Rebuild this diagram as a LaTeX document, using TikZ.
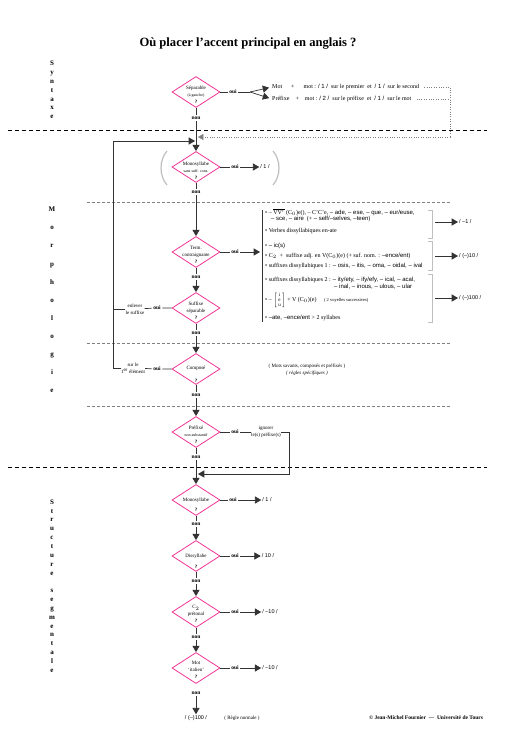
\documentclass[tikz,border=0pt]{standalone}
\usepackage{fontspec}
\setmainfont{Liberation Serif}
\setsansfont{Liberation Sans}
\usepackage{amsmath}
\usetikzlibrary{shapes, arrows, calc}
\definecolor{rose}{RGB}{238,52,148}
\definecolor{trait}{gray}{0.2}

\begin{document}
\begin{tikzpicture}[x=1pt, y=-1pt, >=triangle 60]
\tikzset{
  cond/.style={diamond, draw=rose, line width=0.8pt, minimum width=48pt,
               minimum height=31pt, inner sep=0pt},
  ctxt/.style={align=center, font=\fontsize{5}{7}\selectfont, inner sep=0pt},
  rep/.style={font=\bfseries\fontsize{5.5}{6}\selectfont, inner sep=1.5pt},
  res/.style={font=\sffamily\fontsize{5.5}{6}\selectfont, inner sep=1pt},
  liste/.style={anchor=west, font=\fontsize{6}{6}\selectfont, inner sep=0pt},
  fil/.style={draw=trait, line width=0.7pt},
  crochet/.style={draw=lightgray, line width=0.8pt},
  coupe/.style={dash pattern=on 4pt off 3pt, line width=0.8pt},
  coupefine/.style={draw=gray, dash pattern=on 3pt off 2pt, line width=0.4pt},
  vert/.style={font=\bfseries\fontsize{7}{#1}\selectfont, align=center, inner sep=0pt}
  };

\useasboundingbox (0,0) rectangle (519,745);

\node[font=\bfseries\fontsize{12.6}{14}\selectfont] (titre) at (248,44) {Où placer l'accent principal en anglais ?};

\node[vert=8.8]  (syn) at (52,90)  {S\\y\\n\\t\\a\\x\\e};
\node[vert=18.1] (mor) at (52,300) {M\\o\\r\\p\\h\\o\\l\\o\\g\\i\\e};
\node[vert=8.84] (str) at (52,586) {S\\t\\r\\u\\c\\t\\u\\r\\e\\[8.84pt]s\\e\\g\\m\\e\\n\\t\\a\\l\\e};

\draw[coupe] (8,130) -- (487,130);
\draw[coupe] (8,467) -- (487,467);
\foreach \y in {202,343,406} \draw[coupefine] (87,\y) -- (450,\y);

\node[cond] (separ) at (196,92)  {};
\node[cond] (mono)  at (196,167) {};
\node[cond] (term)  at (196,252) {};
\node[cond] (suff)  at (196,308) {};
\node[cond] (comp)  at (196,369) {};
\node[cond] (pref)  at (196,432) {};
\node[cond] (monob) at (196,500) {};
\node[cond] (diss)  at (196,556) {};
\node[cond] (cdeux) at (196,612) {};
\node[cond] (ital)  at (196,668) {};

\node[ctxt] (separ-t) at (196,95)  {Séparable\\{\fontsize{4}{5}\selectfont (à gauche)}\\\textbf{?}};
\node[ctxt] (mono-t)  at (196,171) {Monosyllabe\\{\fontsize{4}{5}\selectfont sans suff. cons.}\\\textbf{?}};
\node[ctxt] (term-t)  at (196,255) {Term.\\contraignante\\\textbf{?}};
\node[ctxt] (suff-t)  at (196,311) {Suffixe\\séparable\\\textbf{?}};
\node[ctxt] (comp-t)  at (196,374) {Composé\\[6pt]\textbf{?}};
\node[ctxt] (pref-t)  at (196,435) {Préfixé\\{\fontsize{4}{5}\selectfont non-substantif}\\\textbf{?}};
\node[ctxt] (monob-t) at (196,505) {Monosyllabe\\[3pt]\textbf{?}};
\node[ctxt] (diss-t)  at (196,561) {Dissyllabe\\[4pt]\textbf{?}};
\node[ctxt] (cdeux-t) at (196,614) {C$_2$\\prétonal\\\textbf{?}};
\node[ctxt] (ital-t)  at (196,670) {Mot\\`italien'\\\textbf{?}};

\foreach \n/\y in {a/118, b/192, c/277, d/333, e/395, f/457, g/524, h/581, i/637, j/693}
  \node[rep] (non\n) at (196,\y) {non};

\foreach \d/\n/\s in {separ/a/mono, mono/b/term, term/c/suff, suff/d/comp, comp/e/pref,
                      pref/f/monob, monob/g/diss, diss/h/cdeux, cdeux/i/ital}{
  \draw[fil] (\d) -- (non\n);
  \draw[fil, ->] (non\n) -- (\s);
}

\node[res] (fin) at (196,718) {/ (–)100 /};
\node[font=\fontsize{5}{6}\selectfont] (regle) at (242,718) {( Règle normale )};
\draw[fil, ->] (nonj) -- (fin);

% syntaxe
\node[rep] (ouia) at (233,92) {oui};
\coordinate (fourche) at (250,92);
\node[liste] (mot) at (272,87) {Mot \hspace{6pt} + \hspace{6pt} mot : \textsf{/ 1 /} \ sur le premier \ et \ \textsf{/ 1 /} \ sur le second};
\node[liste] (prefixe) at (272,99) {Préfixe \hspace{3pt} + \hspace{3pt} mot : \textsf{/ 2 /} \ sur le préfixe \ et \ \textsf{/ 1 /} \ sur le mot};
\draw[fil] (separ) -- (ouia) -- (fourche);
\draw[fil, ->, shorten >=3pt] (fourche) -- (mot.west);
\draw[fil, ->, shorten >=3pt] (fourche) -- (prefixe.west);

\coordinate (pa) at (450,87);
\coordinate (pc) at (450,137);
\coordinate (retour) at (198,137);
\draw[gray, dotted] (mot.east) ++(5,0) -- (pa) -- (pc);
\draw[gray, dotted] (prefixe.east) ++(5,0) -- (prefixe.east -| pa);
\draw[gray, dotted, ->] (pc) -- (retour);

% morphologie
\node[rep] (ouib) at (235,167) {oui};
\node[res] (unb) at (265,167) {/ 1 /};
\draw[fil] (mono) -- (ouib);
\draw[fil, ->] (ouib) -- (unb);
\draw[lightgray, line width=1.2pt] (167,151) .. controls (159,160) and (159,176) .. (167,185);
\draw[lightgray, line width=1.2pt] (273,151) .. controls (281,160) and (281,176) .. (273,185);

\node[rep] (ouic) at (235,252) {oui};
\coordinate (boite) at (260,252);
\draw[fil] (term) -- (ouic);
\draw[fil, ->] (ouic) -- (boite);

\draw[fil] (262,210) -- (262,322);
\draw[crochet] (428,210) -- (432,210) -- (432,238) -- (428,238);
\draw[crochet] (428,241) -- (432,241) -- (432,270) -- (428,270);
\draw[crochet] (428,274) -- (432,274) -- (432,322) -- (428,322);

\begin{scope}[every node/.style={liste}]
\node (la) at (265,212) {• – $\overline{\mathrm{VV'}}$ (C$_0$)e(), – C'C'e, \textsf{– ade, – ese, – que, – eur/euse,}};
\node (lb) at (271,219) {\textsf{– sce, – aire} \ (+ \textsf{– self/–selves, –teen})};
\node (lc) at (265,231) {• Verbes dissyllabiques en-ate};
\node (ld) at (265,246) {• \textsf{– ic(s)}};
\node (le) at (265,256) {• C$_2$ \ + \ suffixe adj. en V(C$_0$)(e) (+ suf. nom. : \textsf{–ence/ent})};
\node (lf) at (265,266) {• suffixes dissyllabiques 1 : \textsf{– osis, – itis, – oma, – oidal, – ival}};
\node (lg) at (265,280) {• suffixes dissyllabiques 2 : \textsf{– ity/ety, – ify/efy, – ical, – acal,}};
\node (lh) at (334,287) {\textsf{– inal, – inous, – ulous, – ular}};
\node (li) at (265,300) {• – $\left[\begin{smallmatrix}\mathrm{i}\\ \mathrm{e}\\ \mathrm{u}\end{smallmatrix}\right]$ + V (C$_0$)(e) \quad {\fontsize{4.5}{5}\selectfont ( 2 voyelles successives)}};
\node (lj) at (265,318) {• \textsf{–ate, –ence/ent} \textgreater{} 2 syllabes};
\end{scope}

\coordinate (ca) at (435,222);
\coordinate (cb) at (435,256);
\coordinate (cc) at (435,298);
\node[res, anchor=west] (ra) at (458,222) {/ –1 /};
\node[res, anchor=west] (rb) at (458,256) {/ (–)10 /};
\node[res, anchor=west] (rc) at (458,298) {/ (–)100 /};
\draw[fil, ->] (ca) -- (ra);
\draw[fil, ->] (cb) -- (rb);
\draw[fil, ->] (cc) -- (rc);

\node[rep] (ouid) at (157,308) {oui};
\node[ctxt] (enlever) at (135,309) {enlever\\le suffixe};
\node[rep] (ouie) at (157,369) {oui};
\node[ctxt] (surle) at (133,368) {sur le\\1\textsuperscript{er} élément};
\coordinate (gh) at (113,141);
\coordinate (entree) at (195,141);
\draw[fil] (suff) -- (ouid) -- (enlever);
\draw[fil] (enlever.west) -- (enlever.west -| gh);
\draw[fil] (comp) -- (ouie) -- (surle);
\draw[fil, ->] (surle.west) -| (gh) -- (entree);

\node[font=\fontsize{5}{7}\selectfont, align=center] (savants) at (307,370) {( Mots savants, composés et préfixés )\\{\itshape ( règles spécifiques )}};

\node[rep] (ouif) at (235,432) {oui};
\node[ctxt] (ignorer) at (266,432) {ignorer\\le(s) préfixe(s)};
\coordinate (ic) at (289,474);
\coordinate (entreeb) at (198,474);
\draw[fil] (pref) -- (ouif) -- (ignorer);
\draw[fil, ->] (ignorer.east) -| (ic) -- (entreeb);

% structure segmentale
\node[rep] (ouig) at (233,500) {oui};
\node[res] (ung) at (267,500) {/ 1 /};
\node[rep] (ouih) at (235,556) {oui};
\node[res] (dixh) at (268,556) {/ 10 /};
\node[rep] (ouii) at (235,612) {oui};
\node[res] (dixi) at (270,612) {/ –10 /};
\node[rep] (ouij) at (235,668) {oui};
\node[res] (dixj) at (270,668) {/ –10 /};
\draw[fil] (monob) -- (ouig);
\draw[fil, ->] (ouig) -- (ung);
\draw[fil] (diss) -- (ouih);
\draw[fil, ->] (ouih) -- (dixh);
\draw[fil] (cdeux) -- (ouii);
\draw[fil, ->] (ouii) -- (dixi);
\draw[fil] (ital) -- (ouij);
\draw[fil, ->] (ouij) -- (dixj);

\node[font=\bfseries\fontsize{5.5}{6}\selectfont] (copy) at (426,718) {© Jean-Michel Fournier \ — \ Université de Tours};

\end{tikzpicture}
\end{document}
